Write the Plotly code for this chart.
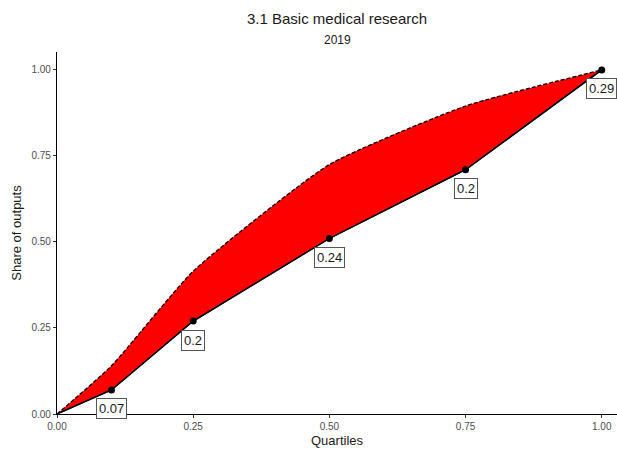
import plotly.graph_objects as go

# Data
quartiles_upper = [0.0, 0.1, 0.25, 0.5, 0.75, 1.0]
share_upper = [0.0, 0.14, 0.415, 0.725, 0.895, 1.0]

quartiles_lower = [0.0, 0.1, 0.25, 0.5, 0.75, 1.0]
share_lower = [0.0, 0.07, 0.27, 0.51, 0.71, 1.0]

point_x = [0.1, 0.25, 0.5, 0.75, 1.0]
point_y = [0.07, 0.27, 0.51, 0.71, 1.0]
point_labels = ["0.07", "0.2", "0.24", "0.2", "0.29"]

tick_vals = [0.0, 0.25, 0.5, 0.75, 1.0]
tick_text = ["0.00", "0.25", "0.50", "0.75", "1.00"]

FONT = "Liberation Sans, Arial, Helvetica, sans-serif"

fig = go.Figure()

# lower boundary (base for fill)
fig.add_trace(go.Scatter(x=quartiles_lower, y=share_lower, mode="lines",
                         line=dict(color="black", width=1.3),
                         hoverinfo="skip", showlegend=False))
# upper dashed line with red fill down to the lower line
fig.add_trace(go.Scatter(x=quartiles_upper, y=share_upper, mode="lines",
                         fill="tonexty", fillcolor="#ff0000",
                         line=dict(color="black", width=1.3, dash="4px,2px",
                                   shape="spline", smoothing=0.5),
                         showlegend=False))
# lower solid line on top
fig.add_trace(go.Scatter(x=quartiles_lower, y=share_lower, mode="lines",
                         line=dict(color="black", width=1.3),
                         showlegend=False))
# points
fig.add_trace(go.Scatter(x=point_x, y=point_y, mode="markers",
                         marker=dict(color="black", size=7),
                         showlegend=False))

for x, y, t in zip(point_x, point_y, point_labels):
    fig.add_annotation(x=x, y=y, text=t, showarrow=False, yshift=-19,
                       font=dict(family=FONT, size=13, color="#1a1a1a"),
                       bgcolor="white", bordercolor="#555555", borderwidth=1,
                       borderpad=2)

fig.add_annotation(text="3.1 Basic medical research", xref="paper", yref="paper",
                   x=0.5, y=1, yshift=52 - 18, showarrow=False, xanchor="center",
                   yanchor="middle", font=dict(family=FONT, size=15, color="#1a1a1a"))
fig.add_annotation(text="2019", xref="paper", yref="paper",
                   x=0.5, y=1, yshift=52 - 40, showarrow=False, xanchor="center",
                   yanchor="middle", font=dict(family=FONT, size=12, color="#1a1a1a"))

fig.update_layout(
    width=617, height=449,
    margin=dict(l=57, r=0, t=52, b=35),
    paper_bgcolor="white", plot_bgcolor="white",
    font=dict(family=FONT),
)

fig.update_xaxes(range=[0, 1.028], tickvals=tick_vals, ticktext=tick_text,
                 showgrid=False, zeroline=False, showline=True, linecolor="black",
                 linewidth=1.2, ticks="outside", ticklen=3, tickcolor="#333333",
                 tickfont=dict(family=FONT, size=10, color="#4d4d4d"),
                 title=dict(text="Quartiles", standoff=4,
                            font=dict(family=FONT, size=13, color="#1a1a1a")))
fig.update_yaxes(range=[0, 1.052], tickvals=tick_vals, ticktext=tick_text,
                 showgrid=False, zeroline=False, showline=True, linecolor="black",
                 linewidth=1.2, ticks="outside", ticklen=3, tickcolor="#333333",
                 tickfont=dict(family=FONT, size=10, color="#4d4d4d"),
                 title=dict(text="Share of outputs", standoff=6,
                            font=dict(family=FONT, size=13, color="#1a1a1a")))

fig.write_html("out.html")
